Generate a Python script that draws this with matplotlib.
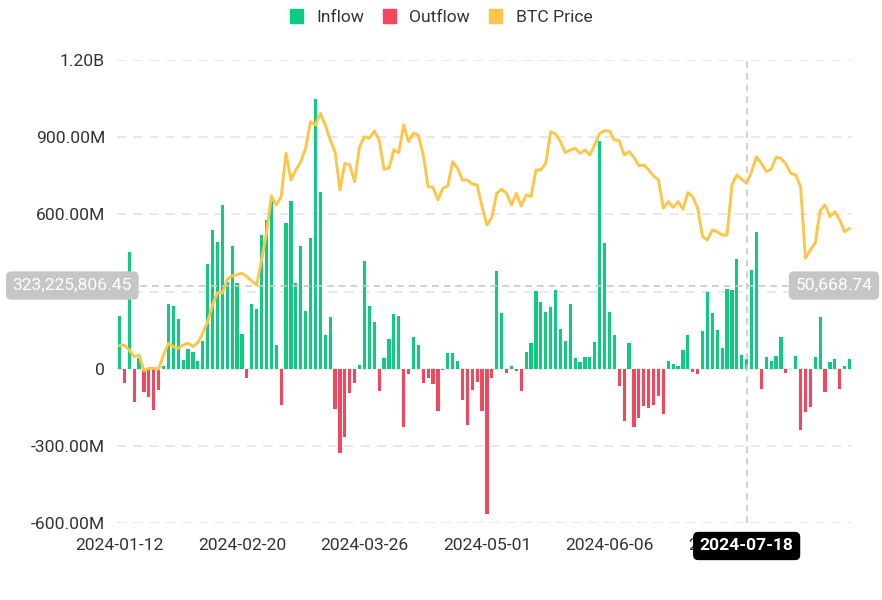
import numpy as np
import pandas as pd
import matplotlib
matplotlib.use('Agg')
import matplotlib.pyplot as plt
from matplotlib.patches import Patch
from matplotlib.ticker import FuncFormatter
from matplotlib.transforms import blended_transform_factory

plt.rcParams['font.family'] = ['Roboto', 'DejaVu Sans']

# US trading days, 2024-01-12 .. 2024-08-16
holidays = ['2024-01-15', '2024-02-19', '2024-03-29', '2024-05-27', '2024-06-19', '2024-07-04']
dates = pd.bdate_range('2024-01-12', '2024-08-16', freq='C', holidays=holidays).strftime('%Y-%m-%d').tolist()

# daily net flow, millions USD (positive -> Inflow, negative -> Outflow)
net_flow_m = [
    204, -56, 455, -130, 40, -91, -110, -162, -84, 12,
    253, 245, 195, 35, 78, 65, 31, 106, 405, 541,
    493, 638, 338, 477, 332, 134, -36, 251, 232, 521,
    579, 664, 92, -141, 566, 651, 333, 475, 223, 507,
    1050, 686, 132, 199, -158, -327, -264, -95, -54, 14,
    420, 245, 183, -87, 40, 116, 214, 204, -226, -19,
    123, 92, -56, -36, -58, -166, -5, 60, 60, 30,
    -122, -219, -84, -53, -164, -566, -36, 378, 217, -17,
    9, -11, -86, 64, 99, 303, 258, 222, 238, 306,
    154, 107, 253, 43, 26, 47, 47, 104, 887, 489,
    219, 131, -66, -203, 101, -228, -192, -146, -153, -140,
    -107, -176, 30, 20, 11, 74, 130, -14, -21, 145,
    298, 218, 150, 80, 311, 304, 425, 53, 37, 384,
    533, -79, 44, 30, 51, 122, -18, 0, 49, -237,
    -167, -148, 44, 201, -89, 27, 37, -79, 11, 36,
]

# BTC close, USD
btc_price = [
    42980, 43070, 42420, 41550, 41770, 39740, 40050, 40050, 39960, 41770,
    43290, 42850, 42640, 43070, 43290, 42850, 43370, 44580, 46090, 48250,
    49850, 49770, 51580, 52010, 52200, 52360, 51920, 51360, 50840, 54080,
    57540, 62380, 61210, 62290, 67910, 64450, 65750, 66820, 68560, 72010,
    71580, 73100, 71580, 69640, 68120, 63160, 66610, 66400, 64230, 68770,
    70060, 69850, 70800, 69640, 65840, 65970, 68340, 67990, 71580, 69420,
    70500, 70280, 67690, 63580, 63500, 61860, 63370, 63670, 66820, 65970,
    64450, 64450, 63930, 63800, 60990, 58620, 59620, 62730, 63250, 62730,
    61210, 62730, 61080, 62510, 62290, 65750, 65750, 66620, 70710, 70410,
    69420, 67990, 68340, 68560, 67910, 68340, 67690, 68990, 70500, 70840,
    70800, 69640, 69550, 67690, 68120, 67390, 66270, 66400, 65750, 64970,
    64450, 60790, 61640, 60920, 61640, 60660, 62810, 62290, 60790, 57110,
    56680, 57970, 57750, 57320, 57320, 63800, 65100, 64540, 64020, 65530,
    67470, 66620, 65530, 65840, 67390, 67260, 66530, 65320, 65100, 63600,
    54340, 55380, 56300, 60500, 61210, 59700, 60340, 59270, 57750, 58190,
]

tick_idx = [0, 25, 50, 75, 100, 125]

# hover state shown in the screenshot
hover_date = '2024-07-18'
hover_flow = 323225806.45
hover_price = 50668.74

GREEN = '#0ecb81'
RED = '#f6465d'
YELLOW = '#fdc64a'
TXT = '#333333'
FS = 12.6

x = np.arange(len(dates))
flow = np.array(net_flow_m) * 1e6
inflow = np.where(flow > 0, flow, 0)
outflow = np.where(flow < 0, flow, 0)

fig = plt.figure(figsize=(8.82, 6), dpi=100)
ax = fig.add_axes([117 / 882, 77 / 600, 735 / 882, 463 / 600])

ax.bar(x, inflow, width=0.65, color=GREEN, zorder=2)
ax.bar(x, outflow, width=0.65, color=RED, zorder=2)
ax.set_xlim(-0.5, len(dates) - 0.5)
ax.set_ylim(-600e6, 1200e6)
ax.set_yticks(np.arange(-600e6, 1201e6, 300e6))


def fmt(v, pos):
    if abs(v) < 1:
        return '0'
    if abs(v) >= 1e9:
        return '%.2fB' % (v / 1e9)
    return '%.2fM' % (v / 1e6)


ax.yaxis.set_major_formatter(FuncFormatter(fmt))
ax.set_xticks(tick_idx)
ax.set_xticklabels([dates[i] for i in tick_idx])
ax.yaxis.grid(True, linestyle=(0, (5, 4)), color='#e6e6e6', linewidth=1.3)
ax.set_axisbelow(True)
for s in ax.spines.values():
    s.set_visible(False)
ax.tick_params(axis='both', length=0, labelsize=FS, labelcolor=TXT)
ax.tick_params(axis='y', pad=8.6)
ax.tick_params(axis='x', pad=11)

# price line on hidden right axis
ax2 = ax.twinx()
ax2.plot(x, btc_price, color=YELLOW, linewidth=2.1, solid_joinstyle='round',
         solid_capstyle='round', zorder=3)
ax2.set_ylim(20000, 80000)
ax2.set_axis_off()

# crosshair
hx = dates.index(hover_date)
ax2.axvline(hx, color='#c8c8c8', linestyle=(0, (4, 3)), linewidth=1.2, zorder=4)
ax2.axhline(hover_price, color='#c8c8c8', linestyle=(0, (4, 3)), linewidth=1.2, zorder=4)

tr_y = blended_transform_factory(fig.transFigure, ax.transData)
fig.text(132 / 882, hover_flow, '{:,.2f}'.format(hover_flow), transform=tr_y,
         ha='right', va='center', color='white', fontsize=FS, zorder=10,
         bbox=dict(boxstyle='round,pad=0.38,rounding_size=0.3', fc='#c6c6c6', ec='none'))
fig.text(834 / 882, hover_flow, '{:,.2f}'.format(hover_price), transform=tr_y,
         ha='center', va='center', color='white', fontsize=FS, zorder=10,
         bbox=dict(boxstyle='round,pad=0.38,rounding_size=0.3', fc='#c6c6c6', ec='none'))
tr_x = blended_transform_factory(ax.transData, fig.transFigure)
fig.text(hx, 1 - 546 / 600, hover_date, transform=tr_x,
         ha='center', va='center', color='white', fontsize=FS, fontweight='bold', zorder=10,
         bbox=dict(boxstyle='round,pad=0.38,rounding_size=0.3', fc='black', ec='none'))

# legend
handles = [Patch(color=GREEN, label='Inflow'),
           Patch(color=RED, label='Outflow'),
           Patch(color=YELLOW, label='BTC Price')]
leg = fig.legend(handles=handles, loc='center', bbox_to_anchor=(0.5, 1 - 17 / 600), ncol=3,
                 frameon=False, fontsize=FS, handlelength=0.75, handleheight=0.85,
                 handletextpad=0.75, columnspacing=1.1)
for t in leg.get_texts():
    t.set_color(TXT)

fig.savefig('out.png', dpi=100)
